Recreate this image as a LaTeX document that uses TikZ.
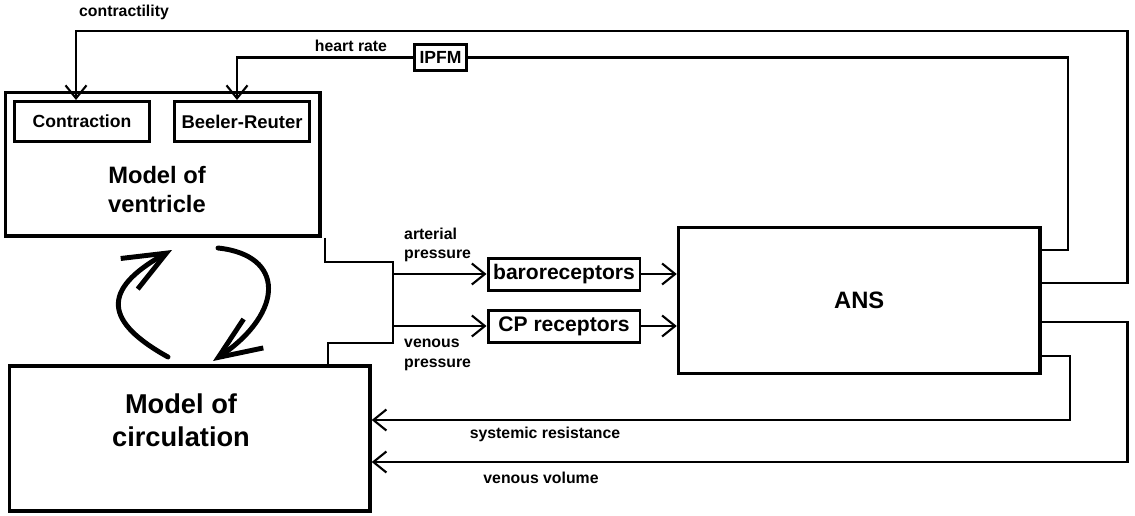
\documentclass[tikz,border=0pt]{standalone}
\usepackage{fontspec}
\setmainfont{Liberation Sans}
\usetikzlibrary{arrows.meta,positioning}

\begin{document}
\begin{tikzpicture}[x=0.02cm, y=-0.02cm,
    lbl/.style={font=\fontsize{9}{11}\selectfont\bfseries},
    title/.style={align=center, inner sep=0pt},
    bigbox/.style={draw, line width=2pt, inner sep=0pt},
    smallbox/.style={draw, line width=1.7pt, inner sep=0pt},
    conn/.style={line width=1.2pt},
    tip/.style={-{Straight Barb[length=0.26cm,width=0.42cm]}},
    cycle/.style={line width=2.8pt, line cap=round, -{Straight Barb[length=0.85cm,width=0.7cm]}}
]
\useasboundingbox (0,0) rectangle (1135,515);

% Ventricle
\node[bigbox, minimum width=6.29cm, minimum height=2.87cm] (vent) at (162.75,164.25) {};
\node[smallbox, minimum width=2.69cm, minimum height=0.8cm, font=\fontsize{10}{12}\selectfont\bfseries] (contr) at (82,121.5) {Contraction};
\node[smallbox, minimum width=2.7cm, minimum height=0.8cm, font=\fontsize{10.5}{12}\selectfont\bfseries] (br) at (242,121.5) {Beeler-Reuter};
\node[title, font=\fontsize{13.5}{16.5}\selectfont\bfseries] (venttxt) at (157,190) {Model of\\ventricle};

% Circulation
\node[bigbox, minimum width=7.21cm, minimum height=2.9cm] (circ) at (189.75,438.5) {};
\node[title, font=\fontsize{15.5}{18.7}\selectfont\bfseries] (circtxt) at (181,420) {Model of\\circulation};

% ANS and receptors
\node[bigbox, minimum width=7.23cm, minimum height=2.92cm, font=\fontsize{13.5}{16}\selectfont\bfseries] (ANS) at (859.25,300.5) {ANS};
\node[smallbox, minimum width=3.04cm, minimum height=0.64cm, font=\fontsize{12}{14}\selectfont\bfseries] (baro) at (564,274) {baroreceptors};
\node[smallbox, minimum width=3.04cm, minimum height=0.64cm, font=\fontsize{12}{14}\selectfont\bfseries] (cp) at (564,326) {CP receptors};
\node[smallbox, minimum width=1.04cm, minimum height=0.52cm, font=\fontsize{10}{12}\selectfont\bfseries] (ipfm) at (440.5,57.5) {IPFM};

% Pressures to receptors
\coordinate (bustop) at (393,262);
\coordinate (busbot) at (393,343);
\draw[conn] (vent.south -| 325,0) |- (bustop) -- (busbot) -| (circ.north -| 328,0);
\draw[conn,tip] (bustop |- baro.west) -- (baro.west);
\draw[conn,tip] (busbot |- cp.west) -- (cp.west);
\draw[conn,tip] (baro.east) -- (ANS.west |- baro.east);
\draw[conn,tip] (cp.east) -- (ANS.west |- cp.east);
\node[lbl, anchor=west, align=left] (artlbl) at (398,245) {arterial\\pressure};
\node[lbl, anchor=west, align=left] (venlbl) at (398,355) {venous\\pressure};

% Feedback from ANS
\draw[conn,tip] (ANS.east |- 0,283) -| (1127.5,31) -| (contr.north -| 76,0);
\node[lbl] (ctrlbl) at (124,12) {contractility};
\draw[conn] (ANS.east |- 0,250) -| (1068,57.5) -- (ipfm.east);
\draw[conn,tip] (ipfm.west) -| (br.north -| 237,0);
\node[lbl] (hrlbl) at (351,46) {heart rate};
\draw[conn,tip] (ANS.east |- 0,356) -| (1070,420) -- (circ.east |- 0,420);
\node[lbl] (srlbl) at (545,434) {systemic resistance};
\draw[conn,tip] (ANS.east |- 0,322) -| (1127.5,462) -- (circ.east |- 0,462);
\node[lbl] (vvlbl) at (541,478) {venous volume};

% Cycle between the models
\draw[cycle] (168,357) .. controls (105,322) and (100,290) .. (172,250);
\draw[cycle] (218,248) .. controls (285,255) and (285,312) .. (213,361);
\end{tikzpicture}
\end{document}
